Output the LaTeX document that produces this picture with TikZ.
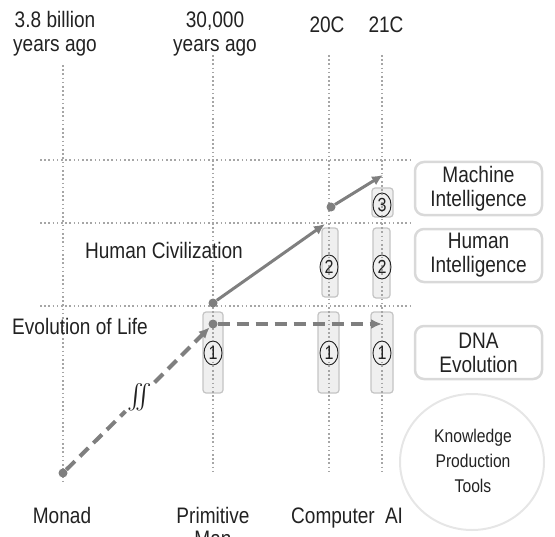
\documentclass[tikz,border=0pt]{standalone}
\usepackage{amsmath}
\usepackage{fontspec}
\setmainfont{Liberation Sans}[FakeStretch=0.85]
\usetikzlibrary{arrows.meta, shapes.geometric, positioning}
\definecolor{flowgray}{HTML}{7F7F7F}
\definecolor{gridgray}{HTML}{A6A6A6}
\definecolor{pillarfill}{HTML}{EFEFEF}
\definecolor{pillarline}{HTML}{C4C4C4}
\definecolor{tagline}{HTML}{D9D9D9}
\definecolor{toolline}{HTML}{E6E6E6}
\definecolor{ink}{HTML}{222222}

\begin{document}
\begin{tikzpicture}[x=1bp, y=-1bp, font=\fontsize{22.5}{24}\selectfont, text=ink,
    >={Latex[length=11bp, width=10bp]},
    grid/.style={draw=gridgray, line width=1.6bp, dash pattern=on 1.6bp off 2.6bp},
    pillar/.style={draw=pillarline, fill=pillarfill, rounded corners=3bp, line width=1.2bp},
    num/.style={ellipse, draw=ink, line width=0.9bp, inner sep=0pt, minimum width=18bp, minimum height=24bp, font=\fontsize{19}{20}\selectfont},
    tag/.style={draw=tagline, line width=2.5bp, rounded corners=9bp, minimum width=127bp, minimum height=53bp, align=center},
    dot/.style={circle, fill=flowgray, inner sep=0pt, minimum size=9bp},
    solidflow/.style={->, draw=flowgray, line width=3bp},
    dashflow/.style={draw=flowgray, line width=4bp, dash pattern=on 12bp off 7bp}]
    \useasboundingbox (0,0) rectangle (555,537);

    % pillars
    \draw[pillar] (203,312) rectangle (223,393);
    \draw[pillar] (318,312) rectangle (339,393);
    \draw[pillar] (371,312) rectangle (393,393);
    \draw[pillar] (322,228) rectangle (338,297);
    \draw[pillar] (373,228) rectangle (390,298);
    \draw[pillar] (372,188) rectangle (393,217);

    % grid
    \draw[grid] (63,65) -- (63,483);
    \draw[grid] (213,55) -- (213,473);
    \draw[grid] (329,55) -- (329,472);
    \draw[grid] (382,55) -- (382,472);
    \draw[grid] (40,160) -- (410,160);
    \draw[grid] (40,223) -- (410,223);
    \draw[grid] (40,306) -- (410,306);

    % time axis
    \node[align=center] (t1) at (55,34) {3.8 billion\\years ago};
    \node[align=center] (t2) at (215,34) {30,000\\years ago};
    \node (t3) at (327,25) {20C};
    \node (t4) at (386,25) {21C};
    \node[anchor=base] (monad) at (62,523) {Monad};
    \node[align=center] (man) at (213,527) {Primitive\\Man};
    \node[anchor=base] (comp) at (333,523) {Computer};
    \node[anchor=base] (ai) at (394,523) {AI};

    % stages
    \node (life) at (80,326) {Evolution of Life};
    \node (civ) at (164,250) {Human Civilization};
    \node[tag] (mi) at (478.5,188.5) {Machine\\Intelligence};
    \node[tag] (hi) at (478.5,255.5) {Human\\Intelligence};
    \node[tag] (dna) at (478.5,352.5) {DNA\\Evolution};
    \draw[toolline, line width=2bp] (472,462) ellipse [x radius=72, y radius=68];
    \node[align=center, font=\fontsize{18.5}{25.5}\selectfont] (tools) at (473,461) {Knowledge\\Production\\Tools};

    % numbers
    \node[num] (n1a) at (213,353) {1};
    \node[num] (n1b) at (329,353) {1};
    \node[num] (n1c) at (382,353) {1};
    \node[num] (n2b) at (329,267) {2};
    \node[num] (n2c) at (382,267) {2};
    \node[num] (n3c) at (382,205) {3};

    % flows
    \node[dot] (d0) at (63,473) {};
    \node[dot] (d1) at (213,303) {};
    \node[dot] (d2) at (213,324) {};
    \node[dot] (d3) at (331,207) {};
    \coordinate (e1) at (325,224);
    \coordinate (e2) at (383,175);
    \coordinate (e3) at (382,324);
    \node[font=\fontsize{29}{30}\selectfont, text=ink, inner sep=2bp] (brk) at (140,397) {$\int\!\!\!\int$};
    \draw[dashflow] (d0) -- (brk);
    \draw[dashflow, ->] (brk) -- (d2);
    \draw[dashflow, ->] (d2) -- (e3);
    \draw[solidflow] (d1) -- (e1);
    \draw[solidflow] (d3) -- (e2);
\end{tikzpicture}
\end{document}
